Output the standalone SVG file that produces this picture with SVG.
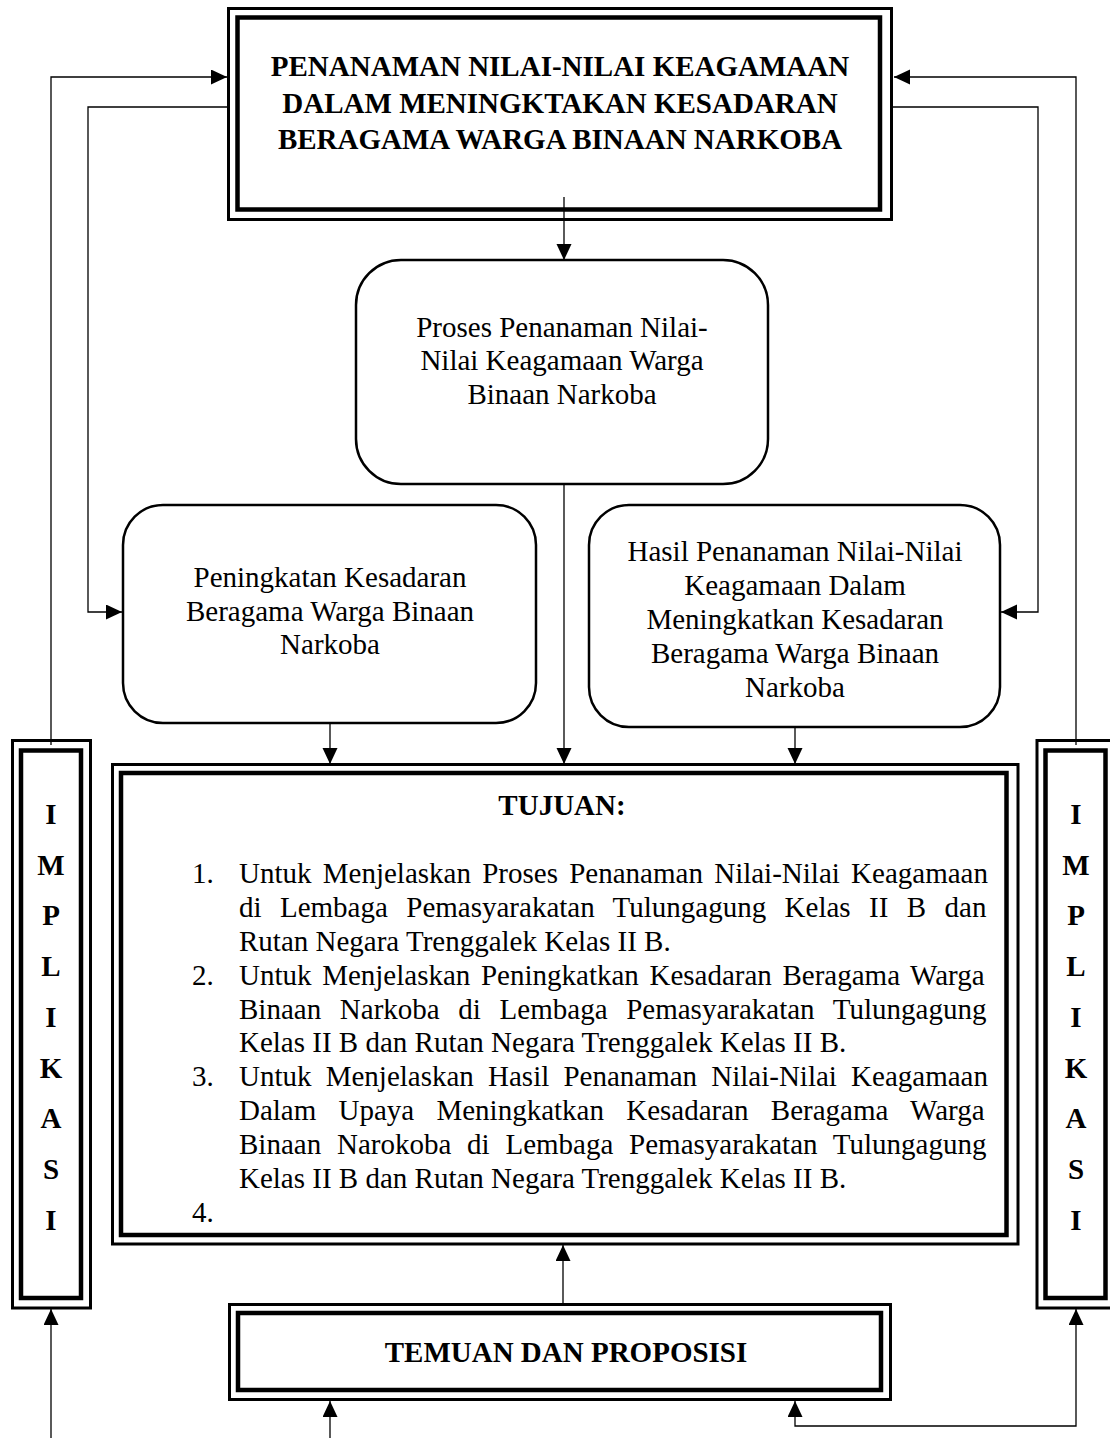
<svg xmlns="http://www.w3.org/2000/svg" width="1110" height="1438" viewBox="0 0 1110 1438">
<style>
.t{font-family:"Liberation Serif","Times New Roman",serif;font-size:29px;fill:#000}
.b{font-weight:bold}
.c{text-anchor:middle}
.conn{stroke:#000;stroke-width:1.3;fill:none}
.outer{fill:none;stroke:#000;stroke-width:3}
.inner{fill:none;stroke:#000;stroke-width:4.5}
.round{fill:#fff;stroke:#000;stroke-width:2.5}
</style>
<defs>
<marker id="ah" markerUnits="userSpaceOnUse" markerWidth="17" markerHeight="16" refX="16" refY="7.5" orient="auto-start-reverse" viewBox="0 0 17 16">
<path d="M0,0 L16,7.5 L0,15 z" fill="#000"/>
</marker>
</defs>
<rect width="1110" height="1438" fill="#fff"/>

<g id="top-box">
<rect class="outer" x="228.5" y="8.5" width="663" height="211"/>
<rect class="inner" x="237.5" y="17.5" width="642.5" height="192"/>
<text class="t b c" x="560" y="76">PENANAMAN NILAI-NILAI KEAGAMAAN</text>
<text class="t b c" x="560" y="113">DALAM MENINGKTAKAN KESADARAN</text>
<text class="t b c" x="560" y="149">BERAGAMA WARGA BINAAN NARKOBA</text>
</g>

<g id="proses">
<rect class="round" x="356" y="260" width="412" height="224" rx="45"/>
<text class="t c" x="562" y="337">Proses Penanaman Nilai-</text>
<text class="t c" x="562" y="370">Nilai Keagamaan Warga</text>
<text class="t c" x="562" y="404">Binaan Narkoba</text>
</g>

<g id="peningkatan">
<rect class="round" x="123" y="505" width="413" height="218" rx="40"/>
<text class="t c" x="330" y="587">Peningkatan Kesadaran</text>
<text class="t c" x="330" y="621">Beragama Warga Binaan</text>
<text class="t c" x="330" y="654">Narkoba</text>
</g>

<g id="hasil">
<rect class="round" x="589" y="505" width="411" height="222" rx="40"/>
<text class="t c" x="795" y="561">Hasil Penanaman Nilai-Nilai</text>
<text class="t c" x="795" y="595">Keagamaan Dalam</text>
<text class="t c" x="795" y="629">Meningkatkan Kesadaran</text>
<text class="t c" x="795" y="663">Beragama Warga Binaan</text>
<text class="t c" x="795" y="697">Narkoba</text>
</g>

<g id="tujuan">
<rect class="outer" x="112.5" y="764.5" width="905.5" height="479.5"/>
<rect class="inner" x="121" y="773" width="885.5" height="462"/>
<text class="t b c" x="562" y="815">TUJUAN:</text>
<text class="t" x="192" y="883">1.</text>
<text class="t" x="239" y="883" word-spacing="4.03">Untuk Menjelaskan Proses Penanaman Nilai-Nilai Keagamaan</text>
<text class="t" x="239" y="917" word-spacing="11.16">di Lembaga Pemasyarakatan Tulungagung Kelas II B dan</text>
<text class="t" x="239" y="951">Rutan Negara Trenggalek Kelas II B.</text>
<text class="t" x="192" y="985">2.</text>
<text class="t" x="239" y="985" word-spacing="3.39">Untuk Menjelaskan Peningkatkan Kesadaran Beragama Warga</text>
<text class="t" x="239" y="1019" word-spacing="11.44">Binaan Narkoba di Lembaga Pemasyarakatan Tulungagung</text>
<text class="t" x="239" y="1052">Kelas II B dan Rutan Negara Trenggalek Kelas II B.</text>
<text class="t" x="192" y="1086">3.</text>
<text class="t" x="239" y="1086" word-spacing="6.93">Untuk Menjelaskan Hasil Penanaman Nilai-Nilai Keagamaan</text>
<text class="t" x="239" y="1120" word-spacing="14.99">Dalam Upaya Meningkatkan Kesadaran Beragama Warga</text>
<text class="t" x="239" y="1154" word-spacing="8.54">Binaan Narokoba di Lembaga Pemasyarakatan Tulungagung</text>
<text class="t" x="239" y="1188">Kelas II B dan Rutan Negara Trenggalek Kelas II B.</text>
<text class="t" x="192" y="1222">4.</text>
</g>

<g id="implikasi-left">
<rect class="outer" x="12.5" y="740.5" width="78" height="567.5"/>
<rect class="inner" x="21" y="750.5" width="60" height="547.5"/>
<text class="t b c" x="51" y="824">I</text>
<text class="t b c" x="51" y="875">M</text>
<text class="t b c" x="51" y="925">P</text>
<text class="t b c" x="51" y="976">L</text>
<text class="t b c" x="51" y="1027">I</text>
<text class="t b c" x="51" y="1078">K</text>
<text class="t b c" x="51" y="1128">A</text>
<text class="t b c" x="51" y="1179">S</text>
<text class="t b c" x="51" y="1230">I</text>
</g>

<g id="implikasi-right">
<rect class="outer" x="1037" y="740.5" width="78" height="567.5"/>
<rect class="inner" x="1045.5" y="750.5" width="60" height="547.5"/>
<text class="t b c" x="1076" y="824">I</text>
<text class="t b c" x="1076" y="875">M</text>
<text class="t b c" x="1076" y="925">P</text>
<text class="t b c" x="1076" y="976">L</text>
<text class="t b c" x="1076" y="1027">I</text>
<text class="t b c" x="1076" y="1078">K</text>
<text class="t b c" x="1076" y="1128">A</text>
<text class="t b c" x="1076" y="1179">S</text>
<text class="t b c" x="1076" y="1230">I</text>
</g>

<g id="temuan">
<rect class="outer" x="229.5" y="1304.5" width="661" height="95"/>
<rect class="inner" x="238" y="1313" width="643" height="77"/>
<text class="t b c" x="566" y="1362">TEMUAN DAN PROPOSISI</text>
</g>

<g id="connectors">
<path class="conn" d="M564,197 V260" marker-end="url(#ah)"/>
<path class="conn" d="M564,484 V764" marker-end="url(#ah)"/>
<path class="conn" d="M330,723 V764" marker-end="url(#ah)"/>
<path class="conn" d="M795,727 V764" marker-end="url(#ah)"/>
<path class="conn" d="M51,745 V77 H227" marker-end="url(#ah)"/>
<path class="conn" d="M227,107 H88 V612 H122" marker-end="url(#ah)"/>
<path class="conn" d="M1076,745 V77 H894" marker-end="url(#ah)"/>
<path class="conn" d="M893,107 H1038 V612 H1001" marker-end="url(#ah)"/>
<path class="conn" d="M563,1304 V1245" marker-end="url(#ah)"/>
<path class="conn" d="M51,1438 V1309" marker-end="url(#ah)"/>
<path class="conn" d="M330,1438 V1401" marker-end="url(#ah)"/>
<path class="conn" d="M795,1401 V1426 H1076 V1309" marker-start="url(#ah)" marker-end="url(#ah)"/>
</g>
</svg>
